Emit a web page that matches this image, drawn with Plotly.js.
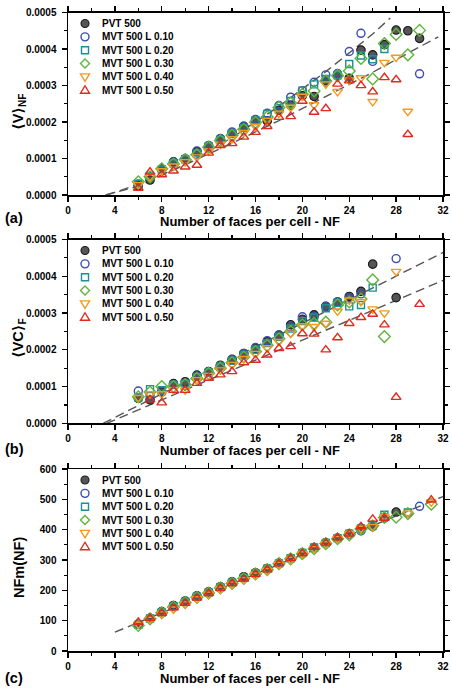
<!DOCTYPE html>
<html>
<head>
<meta charset="utf-8">
<script src="https://cdn.plot.ly/plotly-3.0.1.min.js"></script>
<style>
  html, body { margin: 0; padding: 0; background: #fff; }
  #chart { width: 452px; height: 692px; }
</style>
</head>
<body>
<div id="chart"></div>
<script>
// ---- series ----
const seriesNames = ['PVT 500', 'MVT 500 L 0.10', 'MVT 500 L 0.20', 'MVT 500 L 0.30', 'MVT 500 L 0.40', 'MVT 500 L 0.50'];

// number of faces per cell (panels a, b) and (panel c)
const nfAB = [6,7,8,9,10,11,12,13,14,15,16,17,18,19,20,21,22,23,24,25,26,27,28,29,30];
const nfC  = [6,7,8,9,10,11,12,13,14,15,16,17,18,19,20,21,22,23,24,25,26,27,28,29,30,31];

// (a) <V>_NF
const volPVT  = [0.000025,0.000041,0.000071,0.000091,0.000098,0.000119,0.000134,0.000153,0.000170,0.000187,0.000204,0.000203,0.000232,0.000246,0.000272,0.000270,0.000313,0.000327,0.000320,0.000397,0.000384,0.000412,0.000452,0.000450,0.000429];
const volL010 = [0.000030,0.000050,0.000070,0.000090,0.000100,0.000121,0.000136,0.000155,0.000173,0.000189,0.000207,0.000224,0.000245,0.000268,0.000286,0.000309,0.000329,0.000333,0.000393,0.000443,0.000366,null,null,null,0.000332];
const volL020 = [0.000030,0.000052,0.000070,0.000087,0.000098,0.000114,0.000133,0.000151,0.000169,0.000184,0.000204,0.000222,0.000238,0.000258,0.000286,0.000303,0.000318,0.000328,0.000359,0.000382,0.000372,0.000400,null,null,null];
const volL030 = [0.000036,0.000050,0.000072,0.000085,0.000097,0.000110,0.000131,0.000149,0.000164,0.000180,0.000199,0.000214,0.000240,0.000252,0.000276,0.000285,0.000312,0.000327,0.000340,0.000374,0.000318,0.000415,0.000440,0.000384,0.000451];
const volL040 = [0.000028,0.000050,0.000066,0.000079,0.000091,0.000104,0.000120,0.000139,0.000154,0.000171,0.000188,0.000204,0.000224,0.000240,0.000270,0.000247,0.000304,0.000283,0.000315,0.000321,0.000256,0.000363,0.000377,0.000229,null];
const volL050 = [0.000019,0.000063,0.000056,0.000066,0.000077,0.000082,0.000115,0.000136,0.000141,0.000159,0.000172,0.000188,0.000213,0.000215,0.000257,0.000227,0.000237,0.000304,0.000313,0.000300,0.000283,0.000322,0.000316,0.000166,null];

// (b) <VC>_F
const vcPVT  = [0.000068,0.000064,0.000085,0.000108,0.000113,0.000131,0.000141,0.000158,0.000174,0.000190,0.000204,0.000222,0.000240,0.000268,0.000283,0.000295,0.000318,0.000330,0.000345,0.000359,0.000433,null,0.000342,null,null];
const vcL010 = [0.000088,0.000075,0.000088,0.000106,0.000110,0.000128,0.000140,0.000157,0.000173,0.000190,0.000206,0.000225,0.000240,0.000262,0.000290,0.000290,0.000318,0.000330,0.000342,0.000352,null,null,0.000448,null,null];
const vcL020 = [0.000070,0.000093,0.000090,0.000104,0.000108,0.000126,0.000138,0.000154,0.000170,0.000186,0.000200,0.000218,0.000235,0.000258,0.000278,0.000288,0.000313,0.000328,0.000318,0.000322,0.000369,null,null,null,null];
const vcL030 = [0.000072,0.000085,0.000100,0.000100,0.000105,0.000122,0.000136,0.000150,0.000165,0.000180,0.000195,0.000212,0.000230,0.000250,0.000268,0.000272,0.000275,0.000322,0.000330,0.000338,0.000390,0.000236,null,null,null];
const vcL040 = [0.000070,0.000080,0.000080,0.000092,0.000090,0.000118,0.000130,0.000145,0.000160,0.000176,0.000190,0.000205,0.000222,0.000245,0.000265,0.000263,0.000272,0.000305,0.000335,0.000331,0.000311,0.000300,0.000413,null,null];
const vcL050 = [null,0.000064,0.000056,0.000090,0.000090,0.000109,0.000123,0.000132,0.000141,0.000165,0.000172,0.000186,0.000204,0.000209,0.000244,0.000243,0.000200,0.000233,0.000272,0.000288,0.000297,0.000268,0.000071,null,0.000324];

// (c) NFm(NF)
const nfmPVT  = [88,108,130,150,165,182,195,212,228,245,258,272,290,306,323,340,357,372,386,403,412,440,458,null,null,null];
const nfmL010 = [88,108,128,148,163,180,193,210,226,242,256,270,289,305,322,340,356,371,385,396,410,438,null,455,477,null];
const nfmL020 = [86,107,127,147,162,179,193,210,225,241,256,271,289,306,323,341,356,372,387,404,414,449,null,457,null,null];
const nfmL030 = [84,106,126,145,160,177,191,208,223,239,254,268,288,304,321,337,354,370,383,402,413,440,441,453,null,484];
const nfmL040 = [88,104,122,138,155,172,187,204,220,235,250,265,285,302,320,337,353,370,387,404,410,443,null,454,null,491];
const nfmL050 = [95,108,125,143,158,175,190,207,223,238,253,268,288,305,322,342,356,374,386,410,435,438,null,null,null,498];

// dashed reference curves
const fitA1NF = [3.2, 6, 10, 14, 18, 22, 26, 27.5];
const fitA1V  = [0, 0.000024, 0.000083, 0.000157, 0.000243, 0.000338, 0.000441, 0.000485];
const fitA2NF = [3.3, 6, 10, 14, 18, 22, 26, 30, 31.6];
const fitA2V  = [0, 0.000029, 0.000083, 0.000142, 0.000204, 0.000269, 0.000336, 0.000406, 0.000433];
const fitB1NF = [3.0, 32.1];
const fitB1V  = [0, 0.000466];
const fitB2NF = [3.3, 32.1];
const fitB2V  = [0, 0.00039];
const fitCNF  = [4, 32];
const fitCV   = [62, 509];

// ---- styling ----
const FONT = 'Arial, "Liberation Sans", "DejaVu Sans", sans-serif';
const colors  = ['#555555', '#3a4db0', '#1c8f99', '#5db43a', '#f29a22', '#e2291f'];
const symbols = ['circle', 'circle-open', 'square-open', 'diamond-open', 'triangle-down-open', 'triangle-up-open'];
const sizes   = [8.5, 8, 7, 9, 8.5, 8.5];

const W = 452, H = 692, ML = 68, MR = 9;
const PW = W - ML - MR;
const px2x = p => (p - ML) / PW;
const py2y = p => 1 - p / H;

// panel pixel extents (top, bottom) and text positions
const panels = [
  { top: 12.5, bottom: 195,   label: '(a)', labelY: 218, xTitleY: 222, yTitle: '⟨V⟩<sub>NF</sub>', yTitleY: 112 },
  { top: 239.5, bottom: 423.3, label: '(b)', labelY: 449, xTitleY: 450.5, yTitle: '⟨VC⟩<sub>F</sub>', yTitleY: 338 },
  { top: 469,  bottom: 651,   label: '(c)', labelY: 678, xTitleY: 678.5, yTitle: 'NFm(NF)', yTitleY: 568 }
];

const panelSeries = [
  [volPVT, volL010, volL020, volL030, volL040, volL050],
  [vcPVT, vcL010, vcL020, vcL030, vcL040, vcL050],
  [nfmPVT, nfmL010, nfmL020, nfmL030, nfmL040, nfmL050]
];
const panelX = [nfAB, nfAB, nfC];
const panelFits = [
  [[fitA1NF, fitA1V], [fitA2NF, fitA2V]],
  [[fitB1NF, fitB1V], [fitB2NF, fitB2V]],
  [[fitCNF, fitCV]]
];

const traces = [];
panelSeries.forEach((list, p) => {
  const xa = p === 0 ? 'x' : 'x' + (p + 1);
  const ya = p === 0 ? 'y' : 'y' + (p + 1);
  panelFits[p].forEach(f => {
    traces.push({
      type: 'scatter', mode: 'lines', x: f[0], y: f[1], xaxis: xa, yaxis: ya,
      line: { color: '#555555', width: 1.4, dash: '9px,5px' }, hoverinfo: 'skip', showlegend: false
    });
  });
  list.forEach((vals, i) => {
    const filled = i === 0;
    traces.push({
      type: 'scatter', mode: 'markers', name: seriesNames[i],
      x: panelX[p], y: vals, xaxis: xa, yaxis: ya, showlegend: false, cliponaxis: false,
      marker: {
        symbol: symbols[i], size: sizes[i],
        color: colors[i],
        line: { color: filled ? '#1a1a1a' : colors[i], width: filled ? 1.1 : 1.4 }
      }
    });
  });
});

function makeX(anchor) {
  return {
    anchor: anchor, domain: [0, 1], range: [0, 32], dtick: 4, tick0: 0,
    showline: true, linecolor: '#000', linewidth: 1.5, mirror: 'ticks',
    ticks: 'outside', ticklen: 5, tickwidth: 1.3, tickcolor: '#000',
    minor: { dtick: 2, ticks: 'outside', ticklen: 3, tickwidth: 1.2, tickcolor: '#000' },
    tickfont: { family: FONT, size: 10, color: '#000', weight: 'bold' },
    showgrid: false, zeroline: false, fixedrange: true
  };
}
function makeY(anchor, dom, range, dtick, minorD, fmt) {
  return {
    anchor: anchor, domain: dom, range: range, dtick: dtick, tick0: 0,
    tickformat: fmt,
    showline: true, linecolor: '#000', linewidth: 1.5, mirror: 'ticks',
    ticks: 'outside', ticklen: 5, tickwidth: 1.3, tickcolor: '#000', ticklabelstandoff: 3,
    minor: { dtick: minorD, ticks: 'outside', ticklen: 3, tickwidth: 1.2, tickcolor: '#000' },
    tickfont: { family: FONT, size: 10, color: '#000', weight: 'bold' },
    showgrid: false, zeroline: false, fixedrange: true
  };
}

const doms = panels.map(p => [py2y(p.bottom), py2y(p.top)]);

const annotations = [];
const shapes = [];
panels.forEach((p, k) => {
  annotations.push({
    xref: 'paper', yref: 'paper', x: px2x(250), y: py2y(p.xTitleY), xanchor: 'center', yanchor: 'middle',
    text: 'Number of faces per cell - NF', showarrow: false,
    font: { family: FONT, size: 13, color: '#000', weight: 'bold' }
  });
  annotations.push({
    xref: 'paper', yref: 'paper', x: px2x(3), y: py2y(p.labelY), xanchor: 'left', yanchor: 'middle',
    text: p.label, showarrow: false,
    font: { family: FONT, size: 14.5, color: '#000', weight: 'bold' }
  });
  annotations.push({
    xref: 'paper', yref: 'paper', x: px2x(19), y: py2y(p.yTitleY), xanchor: 'center', yanchor: 'middle',
    text: p.yTitle, textangle: -90, showarrow: false,
    font: { family: FONT, size: 14.5, color: '#000', weight: 'bold' }
  });
  // key for the six series
  seriesNames.forEach((name, i) => {
    const yy = py2y(p.top + 11 + i * 13.35);
    annotations.push({
      xref: 'paper', yref: 'paper', x: px2x(100), y: yy, xanchor: 'left', yanchor: 'middle',
      text: name, showarrow: false,
      font: { family: FONT, size: 10, color: '#000', weight: 'bold' }
    });
    const base = {
      xref: 'paper', yref: 'paper', xsizemode: 'pixel', ysizemode: 'pixel',
      xanchor: px2x(85), yanchor: yy,
      line: { color: i === 0 ? '#1a1a1a' : colors[i], width: i === 0 ? 1.1 : 1.4 },
      fillcolor: i === 0 ? colors[0] : 'rgba(0,0,0,0)'
    };
    if (i <= 1) shapes.push(Object.assign({ type: 'circle', x0: -4, x1: 4, y0: -4, y1: 4 }, base));
    else if (i === 2) shapes.push(Object.assign({ type: 'rect', x0: -3.5, x1: 3.5, y0: -3.5, y1: 3.5 }, base));
    else if (i === 3) shapes.push(Object.assign({ type: 'path', path: 'M-4.5,0L0,4.5L4.5,0L0,-4.5Z' }, base));
    else if (i === 4) shapes.push(Object.assign({ type: 'path', path: 'M-4.5,3L4.5,3L0,-4.5Z' }, base));
    else shapes.push(Object.assign({ type: 'path', path: 'M-4.5,-3L4.5,-3L0,4.5Z' }, base));
  });
});

const layout = {
  width: W, height: H,
  margin: { l: ML, r: MR, t: 0, b: 0 },
  paper_bgcolor: '#fff', plot_bgcolor: '#fff',
  showlegend: false,
  font: { family: FONT, color: '#000' },
  xaxis: makeX('y'),
  xaxis2: makeX('y2'),
  xaxis3: makeX('y3'),
  yaxis: makeY('x', doms[0], [0, 0.0005], 0.0001, 0.00005, '.4f'),
  yaxis2: makeY('x2', doms[1], [0, 0.0005], 0.0001, 0.00005, '.4f'),
  yaxis3: makeY('x3', doms[2], [0, 600], 100, 50, 'd'),
  annotations: annotations,
  shapes: shapes
};

Plotly.newPlot('chart', traces, layout, { displayModeBar: false, staticPlot: true });
</script>
</body>
</html>
